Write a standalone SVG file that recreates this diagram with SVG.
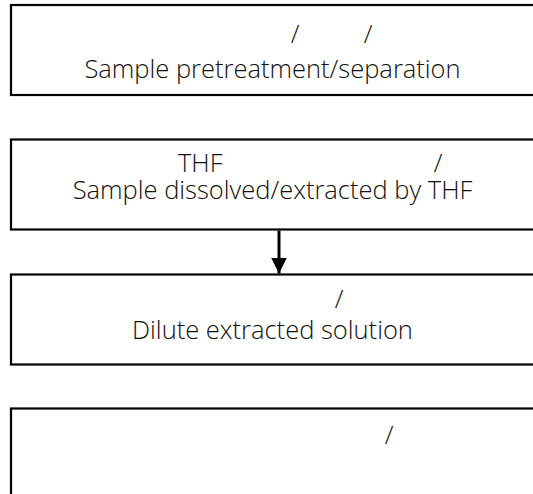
<svg xmlns="http://www.w3.org/2000/svg" width="533" height="494" viewBox="0 0 533 494">
<style>
.box{fill:#fff;stroke:#000;stroke-width:2.2}
.t{font-family:"Open Sans","Liberation Sans",sans-serif;font-weight:300;font-size:25.5px;fill:#111}
.c{text-anchor:middle}
.conn{stroke:#000;stroke-width:3;fill:none}
</style>
<defs>
<marker id="ah" markerWidth="16" markerHeight="18" refX="16" refY="8" orient="auto" markerUnits="userSpaceOnUse">
<path d="M0,0 L16,8 L0,16 Z" fill="#000"/>
</marker>
</defs>
<rect width="533" height="494" fill="#fff"/>
<g id="node1">
<rect class="box" x="11" y="5" width="530" height="90"/>
<text class="t c" x="295" y="43">/</text>
<text class="t c" x="368" y="43">/</text>
<text class="t c" x="272.5" y="78">Sample pretreatment/separation</text>
</g>
<g id="node2">
<rect class="box" x="11" y="139.5" width="530" height="90"/>
<text class="t" x="178" y="172">THF</text>
<text class="t c" x="438" y="172">/</text>
<text class="t c" x="272.5" y="199">Sample dissolved/extracted by THF</text>
</g>
<g id="node3">
<rect class="box" x="11" y="274.5" width="530" height="90"/>
<text class="t c" x="339" y="308">/</text>
<text class="t c" x="272.5" y="339">Dilute extracted solution</text>
</g>
<g id="node4">
<rect class="box" x="11" y="408.5" width="530" height="100"/>
<text class="t c" x="389" y="444">/</text>
</g>
<g id="connectors">
<line class="conn" x1="279" y1="230.5" x2="279" y2="273.5" marker-end="url(#ah)"/>
</g>
</svg>
